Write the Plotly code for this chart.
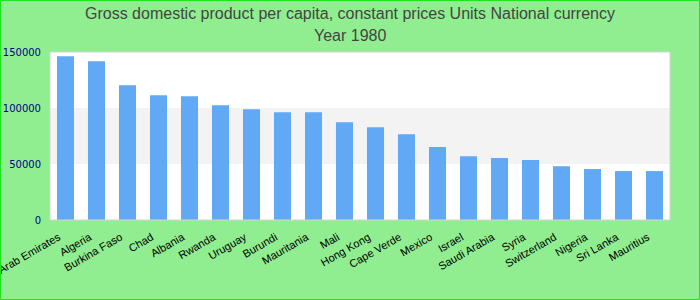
import plotly.graph_objects as go

countries = ["United Arab Emirates", "Algeria", "Burkina Faso", "Chad", "Albania", "Rwanda",
             "Uruguay", "Burundi", "Mauritania", "Mali", "Hong Kong", "Cape Verde", "Mexico",
             "Israel", "Saudi Arabia", "Syria", "Switzerland", "Nigeria", "Sri Lanka", "Mauritius"]
values = [146200, 141700, 120300, 111400, 110500, 102500, 98900, 96300, 96300, 87300,
          82900, 76600, 65100, 57000, 55300, 53500, 48100, 45500, 43700, 43700]
y_ticks = [0, 50000, 100000, 150000]
title_line1 = "Gross domestic product per capita, constant prices Units National currency"
title_line2 = "Year 1980"

W, H = 700, 300
ML, MR, MT, MB = 50, 30, 52, 80
PW, PH = W - ML - MR, H - MT - MB
TITLE_FONT = dict(family="Liberation Sans, Arial, sans-serif", size=16, color="#444444")

fig = go.Figure()
fig.add_trace(go.Bar(x=countries, y=values, marker=dict(color="#62a9f5", line=dict(width=0))))

# alternating band
fig.add_shape(type="rect", xref="paper", yref="y", x0=0, x1=1, y0=y_ticks[1], y1=y_ticks[2],
              fillcolor="#f3f3f3", line=dict(width=0), layer="below")
# plot border
fig.add_shape(type="rect", xref="paper", yref="paper", x0=0, x1=1, y0=0, y1=1,
              line=dict(color="#d3d3d3", width=1), layer="above")
# outer figure border
fig.add_shape(type="rect", xref="paper", yref="paper",
              x0=(0.5 - ML) / PW, x1=(W - 0.5 - ML) / PW,
              y0=-(H - 0.5 - MT - PH) / PH, y1=(MT - 0.5 + PH) / PH,
              line=dict(color="#1ee61e", width=1), layer="above")

# second title line
fig.add_annotation(text=title_line2, xref="paper", yref="paper", x=0.5 - (ML - MR) / 2 / PW,
                   y=(H - 36 - MB) / PH, xanchor="center", yanchor="middle", showarrow=False,
                   font=TITLE_FONT)

fig.update_layout(
    width=W, height=H,
    margin=dict(l=ML, r=MR, t=MT, b=MB, pad=0),
    paper_bgcolor="#90ee90",
    plot_bgcolor="#ffffff",
    showlegend=False,
    bargap=0.45,
    title=dict(text=title_line1, x=0.5, xanchor="center",
               y=1 - 13 / H, yanchor="middle", font=TITLE_FONT),
    xaxis=dict(tickangle=-30, showgrid=False, zeroline=False, showline=False, automargin=False,
               ticklabelstandoff=8, ticklabelshift=-7,
               tickfont=dict(family="Liberation Sans, Arial, sans-serif", size=11, color="#000000")),
    yaxis=dict(range=[0, 150000], tickvals=y_ticks, tickformat="d", showgrid=False, zeroline=False,
               showline=False, automargin=False, ticklabelstandoff=8,
               tickfont=dict(family="DejaVu Sans, sans-serif", size=10, color="#00008b")),
)

fig.write_html("out.html")
